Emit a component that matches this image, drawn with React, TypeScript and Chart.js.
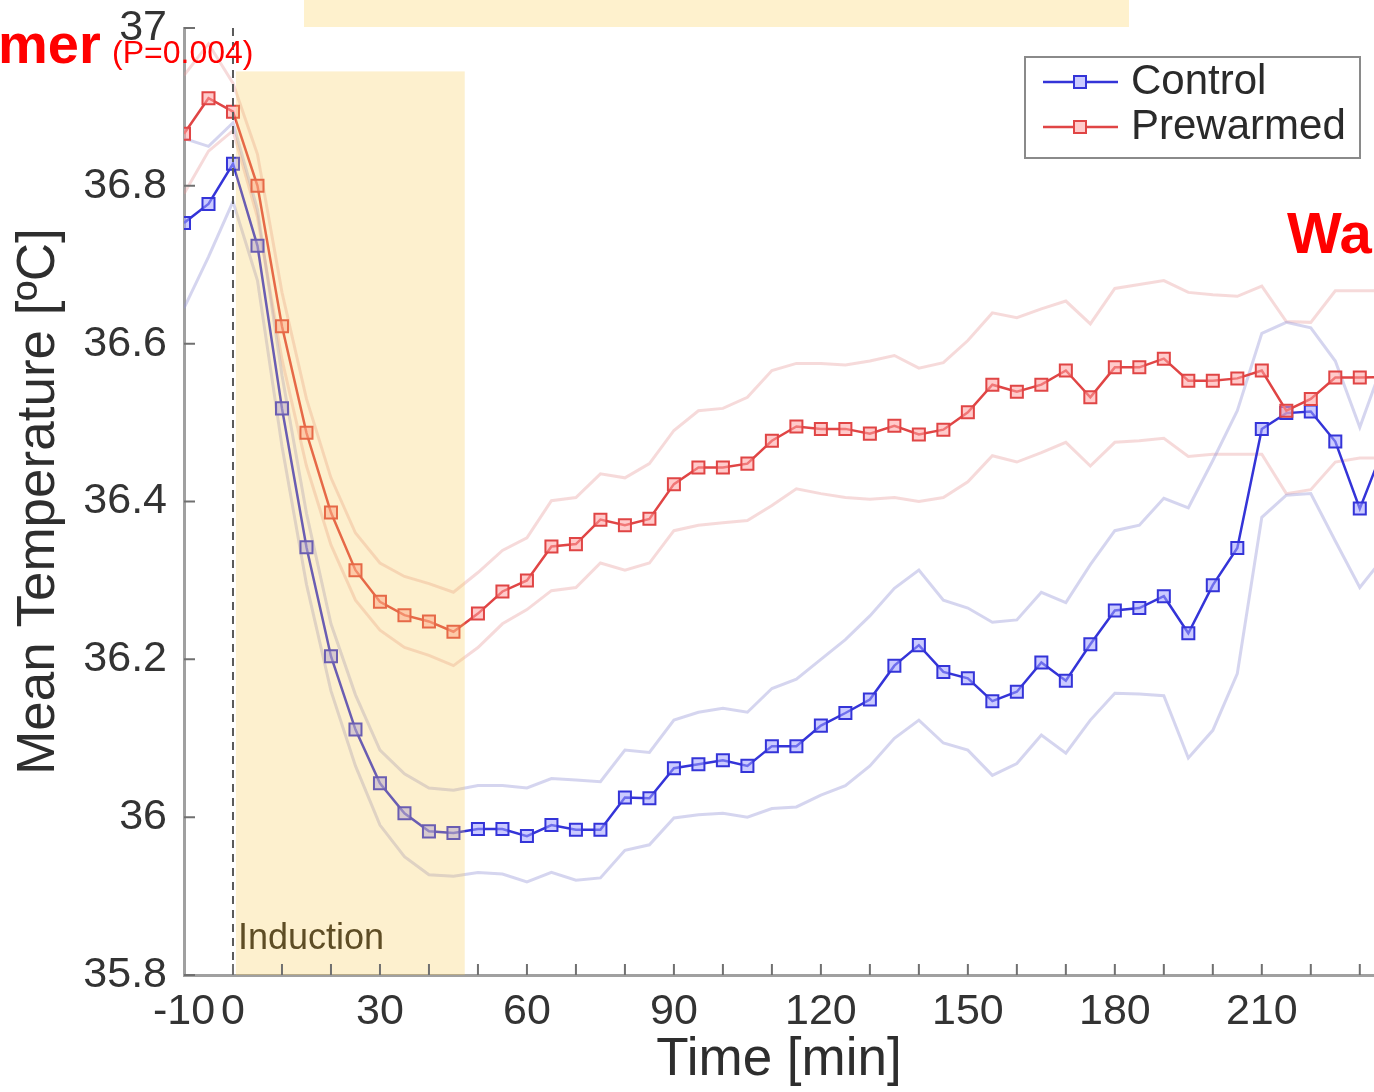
import React, { useEffect, useRef } from 'react';
import { Chart, registerables } from 'chart.js';

Chart.register(...registerables);

// ---- data ----
const timeMin = [-10, -5, 0, 5, 10, 15, 20, 25, 30, 35, 40, 45, 50, 55, 60, 65, 70, 75, 80, 85, 90, 95, 100, 105, 110, 115, 120, 125, 130, 135, 140, 145, 150, 155, 160, 165, 170, 175, 180, 185, 190, 195, 200, 205, 210, 215, 220, 225, 230, 235];

const control = [36.753, 36.777, 36.828, 36.724, 36.518, 36.342, 36.204, 36.111, 36.043, 36.005, 35.982, 35.980, 35.985, 35.985, 35.976, 35.990, 35.984, 35.984, 36.025, 36.024, 36.062, 36.067, 36.072, 36.065, 36.090, 36.090, 36.116, 36.132, 36.149, 36.192, 36.218, 36.184, 36.176, 36.147, 36.159, 36.196, 36.173, 36.219, 36.262, 36.265, 36.280, 36.233, 36.294, 36.341, 36.492, 36.512, 36.514, 36.476, 36.391, 36.47];

const controlUpper = [36.86, 36.85, 36.88, 36.77, 36.56, 36.385, 36.245, 36.155, 36.085, 36.055, 36.037, 36.034, 36.04, 36.04, 36.037, 36.049, 36.047, 36.045, 36.085, 36.082, 36.123, 36.133, 36.138, 36.133, 36.163, 36.175, 36.2, 36.225, 36.255, 36.29, 36.313, 36.275, 36.265, 36.247, 36.25, 36.285, 36.272, 36.32, 36.363, 36.37, 36.404, 36.392, 36.452, 36.515, 36.613, 36.627, 36.62, 36.578, 36.494, 36.58];

const controlLower = [36.645, 36.71, 36.78, 36.68, 36.47, 36.295, 36.16, 36.065, 35.99, 35.95, 35.927, 35.925, 35.93, 35.928, 35.918, 35.93, 35.92, 35.923, 35.958, 35.965, 35.999, 36.003, 36.005, 36.0, 36.011, 36.013, 36.028, 36.04, 36.065, 36.1, 36.123, 36.094, 36.085, 36.053, 36.068, 36.104, 36.081, 36.123, 36.157, 36.156, 36.154, 36.075, 36.11, 36.182, 36.38, 36.408, 36.41, 36.35, 36.291, 36.33];

const prewarmed = [36.866, 36.911, 36.894, 36.800, 36.622, 36.487, 36.386, 36.313, 36.273, 36.256, 36.248, 36.235, 36.258, 36.286, 36.300, 36.343, 36.346, 36.377, 36.370, 36.378, 36.422, 36.443, 36.443, 36.448, 36.477, 36.495, 36.492, 36.492, 36.486, 36.496, 36.485, 36.491, 36.513, 36.548, 36.539, 36.548, 36.566, 36.532, 36.570, 36.570, 36.581, 36.553, 36.553, 36.556, 36.566, 36.515, 36.530, 36.557, 36.557, 36.558];

const prewarmedUpper = [36.94, 36.98, 36.93, 36.84, 36.665, 36.53, 36.43, 36.36, 36.322, 36.305, 36.296, 36.285, 36.31, 36.338, 36.354, 36.401, 36.405, 36.435, 36.43, 36.448, 36.49, 36.515, 36.518, 36.532, 36.566, 36.575, 36.575, 36.573, 36.578, 36.585, 36.569, 36.576, 36.604, 36.639, 36.633, 36.644, 36.654, 36.625, 36.67, 36.675, 36.68, 36.665, 36.662, 36.66, 36.673, 36.628, 36.627, 36.667, 36.667, 36.667];

const prewarmedLower = [36.79, 36.844, 36.87, 36.76, 36.58, 36.445, 36.345, 36.275, 36.237, 36.215, 36.205, 36.192, 36.215, 36.245, 36.263, 36.287, 36.291, 36.322, 36.313, 36.322, 36.363, 36.37, 36.373, 36.376, 36.395, 36.416, 36.41, 36.405, 36.403, 36.405, 36.4, 36.405, 36.425, 36.458, 36.45, 36.462, 36.475, 36.445, 36.475, 36.477, 36.48, 36.457, 36.46, 36.46, 36.46, 36.41, 36.415, 36.45, 36.455, 36.455];

const xTickValues = [-10, 0, 10, 20, 30, 40, 50, 60, 70, 80, 90, 100, 110, 120, 130, 140, 150, 160, 170, 180, 190, 200, 210, 220, 230];
const xLabeledTicks = [-10, 0, 30, 60, 90, 120, 150, 180, 210];
const yTickValues = [35.8, 36, 36.2, 36.4, 36.6, 36.8, 37];
const seriesNames = ['Control', 'Prewarmed'];
const inductionLabel = 'Induction';
const inductionStart = 0.6;
const inductionEnd = 47.3;
const inductionTop = 36.945;

const FONT = '"Liberation Sans", Arial, Helvetica, sans-serif';
const BLUE = '#3434d8';
const BLUE_FILL = 'rgba(160,160,255,0.55)';
const RED = '#e04545';
const RED_FILL = 'rgba(255,160,160,0.55)';

const decorPlugin = {
  id: 'decor',
  afterDatasetsDraw(chart: any) {
    const { ctx, chartArea, scales } = chart;
    const x = scales.x;
    const y = scales.y;
    ctx.save();
    // induction shading (drawn over the lines, translucent)
    const x0 = x.getPixelForValue(inductionStart);
    const x1 = x.getPixelForValue(inductionEnd);
    const yT = y.getPixelForValue(inductionTop);
    const yB = y.getPixelForValue(35.8);
    ctx.fillStyle = 'rgba(248,200,80,0.28)';
    ctx.fillRect(x0, yT, x1 - x0, yB - yT);

    // dashed line at t = 0
    const xz = x.getPixelForValue(0);
    ctx.strokeStyle = '#5a5a5a';
    ctx.lineWidth = 2;
    ctx.setLineDash([8, 6]);
    ctx.beginPath();
    ctx.moveTo(xz, chartArea.top);
    ctx.lineTo(xz, chartArea.bottom);
    ctx.stroke();
    ctx.setLineDash([]);

    // Induction label
    ctx.fillStyle = '#5e4d25';
    ctx.font = `36px ${FONT}`;
    ctx.textAlign = 'left';
    ctx.textBaseline = 'alphabetic';
    ctx.fillText(inductionLabel, x0 + 2, yB - 26);

    // inward tick marks
    ctx.strokeStyle = '#707070';
    ctx.lineWidth = 2;
    ctx.beginPath();
    xTickValues.forEach((v) => {
      if (v <= -10) return;
      const px = x.getPixelForValue(v);
      ctx.moveTo(px, chartArea.bottom);
      ctx.lineTo(px, chartArea.bottom - 11);
    });
    yTickValues.forEach((v) => {
      const py = y.getPixelForValue(v);
      ctx.moveTo(chartArea.left, py);
      ctx.lineTo(chartArea.left + 11, py);
    });
    ctx.stroke();

    // legend
    const lx = 1025, ly = 57, lw = 335, lh = 101;
    ctx.fillStyle = '#ffffff';
    ctx.fillRect(lx, ly, lw, lh);
    ctx.strokeStyle = '#8a8a8a';
    ctx.lineWidth = 2;
    ctx.strokeRect(lx, ly, lw, lh);
    const rows = [
      { name: seriesNames[0], color: BLUE, fill: BLUE_FILL, yy: 82 },
      { name: seriesNames[1], color: RED, fill: RED_FILL, yy: 127 },
    ];
    rows.forEach((r) => {
      ctx.strokeStyle = r.color;
      ctx.lineWidth = 2.5;
      ctx.beginPath();
      ctx.moveTo(1043, r.yy);
      ctx.lineTo(1118, r.yy);
      ctx.stroke();
      ctx.fillStyle = '#ffffff';
      ctx.fillRect(1074, r.yy - 6, 12, 12);
      ctx.fillStyle = r.fill;
      ctx.fillRect(1074, r.yy - 6, 12, 12);
      ctx.lineWidth = 2;
      ctx.strokeRect(1074, r.yy - 6, 12, 12);
      ctx.fillStyle = '#2a2a2a';
      ctx.font = `42px ${FONT}`;
      ctx.textAlign = 'left';
      ctx.textBaseline = 'middle';
      ctx.fillText(r.name, 1131, r.yy);
    });
    ctx.restore();
  },
};

export default function App() {
  const canvasRef = useRef<HTMLCanvasElement | null>(null);

  useEffect(() => {
    document.body.style.margin = '0';
    const canvas = canvasRef.current;
    if (!canvas) return;
    const pts = (vals: number[]) => timeMin.map((t, i) => ({ x: t, y: vals[i] }));
    const band = (vals: number[], color: string) => ({
      label: '',
      data: pts(vals),
      borderColor: color,
      borderWidth: 3,
      pointRadius: 0,
      fill: false,
      tension: 0,
      order: 5,
    });
    const chart = new Chart(canvas, {
      type: 'line',
      data: {
        datasets: [
          {
            label: seriesNames[1],
            data: pts(prewarmed),
            borderColor: RED,
            borderWidth: 2.5,
            pointStyle: 'rect',
            pointRadius: 8.5,
            pointBorderWidth: 2,
            pointBorderColor: RED,
            pointBackgroundColor: RED_FILL,
            tension: 0,
            order: 0,
          },
          {
            label: seriesNames[0],
            data: pts(control),
            borderColor: BLUE,
            borderWidth: 2.5,
            pointStyle: 'rect',
            pointRadius: 8.5,
            pointBorderWidth: 2,
            pointBorderColor: BLUE,
            pointBackgroundColor: BLUE_FILL,
            tension: 0,
            order: 1,
          },
          band(controlUpper, 'rgba(150,150,215,0.4)'),
          band(controlLower, 'rgba(150,150,215,0.4)'),
          band(prewarmedUpper, 'rgba(230,150,150,0.35)'),
          band(prewarmedLower, 'rgba(230,150,150,0.35)'),
        ] as any,
      },
      options: {
        responsive: false,
        animation: false,
        devicePixelRatio: 1,
        layout: { autoPadding: false, padding: { top: 28, right: 0, left: 0, bottom: 0 } },
        plugins: {
          legend: { display: false },
          tooltip: { enabled: false },
          title: { display: false },
        },
        scales: {
          x: {
            type: 'linear',
            min: -10,
            max: 232.9,
            afterBuildTicks: (axis: any) => {
              axis.ticks = xTickValues.map((value) => ({ value }));
            },
            afterFit: (axis: any) => {
              axis.height = 117;
              axis.paddingLeft = 0;
              axis.paddingRight = 0;
            },
            grid: { display: false, drawTicks: false },
            border: { display: true, color: '#a0a0a0', width: 3 },
            ticks: {
              autoSkip: false,
              maxRotation: 0,
              minRotation: 0,
              padding: 11,
              color: '#333333',
              font: { family: FONT, size: 43 },
              callback: (v: any) => (xLabeledTicks.includes(Number(v)) ? String(v) : ''),
            },
            title: {
              display: true,
              text: 'Time [min]',
              color: '#2e2e2e',
              font: { family: FONT, size: 53 },
              padding: { top: 0, bottom: 0 },
            },
          },
          y: {
            type: 'linear',
            min: 35.8,
            max: 37,
            afterBuildTicks: (axis: any) => {
              axis.ticks = yTickValues.map((value) => ({ value }));
            },
            afterFit: (axis: any) => {
              axis.width = 184;
              axis.paddingTop = 0;
              axis.paddingBottom = 0;
            },
            grid: { display: false, drawTicks: false },
            border: { display: true, color: '#a0a0a0', width: 3 },
            ticks: {
              autoSkip: false,
              padding: 17,
              color: '#333333',
              font: { family: FONT, size: 43 },
              callback: (v: any) => String(Math.round(Number(v) * 10) / 10),
            },
            title: {
              display: true,
              text: 'Mean Temperature [ºC]',
              color: '#2e2e2e',
              font: { family: FONT, size: 53 },
              padding: { top: 8, bottom: 0 },
            },
          },
        },
      } as any,
      plugins: [decorPlugin],
    });
    return () => chart.destroy();
  }, []);

  return (
    <div style={{ position: 'absolute', left: 0, top: 0, width: 1374, height: 1092, overflow: 'hidden', background: '#ffffff' }}>
      <canvas ref={canvasRef} width={1374} height={1092} style={{ position: 'absolute', left: 0, top: 0, width: 1374, height: 1092 }} />
      <div style={{ position: 'absolute', left: 304, top: 0, width: 825, height: 27, background: '#FEF1CD' }} />
      <span style={{ position: 'absolute', left: -2, top: 15.6, fontFamily: FONT, fontWeight: 'bold', fontSize: 56, lineHeight: '56px', color: '#ff0000', whiteSpace: 'nowrap' }}>mer</span>
      <span style={{ position: 'absolute', left: 112, top: 36, fontFamily: FONT, fontSize: 32, lineHeight: '32px', color: '#ff0000', whiteSpace: 'nowrap' }}>(P=0.004)</span>
      <span style={{ position: 'absolute', left: 1287, top: 204, fontFamily: FONT, fontWeight: 'bold', fontSize: 58, lineHeight: '58px', color: '#ff0000', whiteSpace: 'nowrap' }}>Wa</span>
    </div>
  );
}
